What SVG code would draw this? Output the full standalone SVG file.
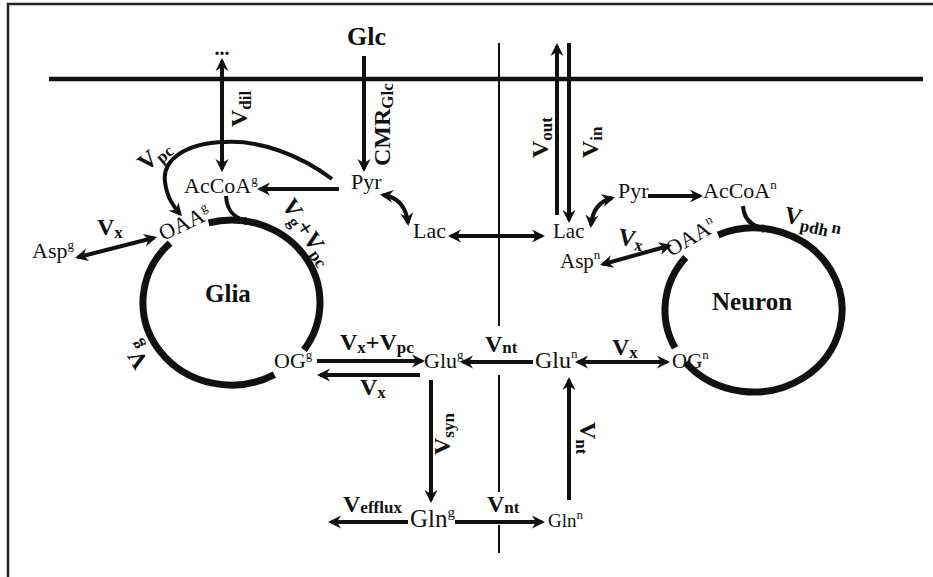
<svg xmlns="http://www.w3.org/2000/svg" width="933" height="577" viewBox="0 0 933 577">
<style>
.t{font-family:"Liberation Serif","Times New Roman",serif;font-size:22px;fill:#111}
.b{font-family:"Liberation Serif","Times New Roman",serif;font-weight:bold;font-size:24px;fill:#111}
.sp{font-size:13px}
.sb{font-size:17px}
.ln{fill:none;stroke:#111;stroke-width:4}
.a{marker-end:url(#ah)}
.aa{marker-start:url(#ah);marker-end:url(#ah)}
.as{marker-end:url(#ahs)}
.cyc{fill:none;stroke:#111;stroke-width:7}
.thin{fill:none;stroke:#111;stroke-width:2}
</style>
<defs>
<marker id="ah" markerUnits="userSpaceOnUse" viewBox="-12 -8 16 16" markerWidth="16" markerHeight="16" refX="0" refY="0" orient="auto-start-reverse">
<path d="M3,0 L-10,-6.5 L-6,0 L-10,6.5 Z" fill="#111"/>
</marker>
<marker id="ahs" markerUnits="userSpaceOnUse" viewBox="-10 -6 12 12" markerWidth="12" markerHeight="12" refX="0" refY="0" orient="auto">
<path d="M2,0 L-8,-4.5 L-5,0 L-8,4.5 Z" fill="#111"/>
</marker>
</defs>
<rect x="0" y="0" width="933" height="577" fill="#fff"/>
<rect x="8" y="4" width="960" height="600" fill="none" stroke="#222" stroke-width="2.5"/>
<g id="membrane">
<line x1="49" y1="79" x2="923" y2="79" stroke="#111" stroke-width="4.5"/>
<path class="thin" d="M499,43 V326 M499,375 V492 M499,525 V553"/>
</g>
<g id="connectors">
<path class="cyc" d="M208.6,222.8 A88.5,82.5 0 0 1 304,349.8"/>
<path class="cyc" d="M274.4,374.7 A88.5,82.5 0 0 1 170,243.2"/>
<path class="cyc" d="M718.1,234.9 A88.5,82 0 1 1 685.7,362.7"/>
<path class="cyc" d="M675,347.9 A88.5,82 0 0 1 685.7,257.3"/>
<path class="ln aa" d="M222,61 V169"/>
<path class="ln a" d="M364,56 V169"/>
<path class="ln a" d="M339,189 H260"/>
<path class="ln a" d="M332,179 C300,155 260,140 225,142 C185,143 162,160 165,182 C167,198 174,207 180,214"/>
<path class="ln aa" d="M383,195 Q405,198 408,223"/>
<path class="ln aa" d="M451,236 H542"/>
<path class="ln aa" d="M591,225 Q593,203 612,198"/>
<path class="ln a" d="M648,196 H700"/>
<path class="ln as" d="M743,206 C744,220 752,228 770,229"/>
<path class="ln as" d="M226,196 C227,212 235,220 252,222"/>
<path class="ln aa" d="M602.9,264.2 L669.1,245.8"/>
<path class="ln aa" d="M77.9,257.3 L154.1,237.7"/>
<path class="ln a" d="M317,361 H422"/>
<path class="ln a" d="M420,375 H320"/>
<path class="ln a" d="M533,362 H463"/>
<path class="ln aa" d="M578,362 H667"/>
<path class="ln a" d="M431,380 V500"/>
<path class="ln a" d="M569,500 V380"/>
<path class="ln a" d="M408,522 H331"/>
<path class="ln a" d="M455,522 H542"/>
<path class="ln a" d="M557,215 V46"/>
<path class="ln a" d="M569,43 V220"/>
<g id="labels">
<text class="b" transform="translate(247,127) rotate(-90)">V<tspan class="sb" dy="4">dil</tspan></text>
<text class="b" transform="translate(146,172) rotate(-40)">V<tspan class="sb" dy="4">pc</tspan></text>
<text class="b" transform="translate(390,166) rotate(-90)">CMR<tspan class="sb" dy="3">Glc</tspan></text>
<text class="b" transform="translate(548,158) rotate(-90)">V<tspan class="sb" dy="4">out</tspan></text>
<text class="b" transform="translate(598,158) rotate(-90)">V<tspan class="sb" dy="4">in</tspan></text>
<text class="b" x="97" y="235">V<tspan class="sb" dy="3">x</tspan></text>
<text class="b" transform="translate(281,205) rotate(57)">V<tspan class="sb" dy="4">g</tspan><tspan dy="-4">+V</tspan><tspan class="sb" dy="4">pc</tspan></text>
<text class="b" transform="translate(617,244) rotate(10)">V<tspan class="sb" dy="3">x</tspan></text>
<text class="b" transform="translate(783,222) rotate(12)">V<tspan class="sb" dy="5">pdh</tspan><tspan class="sb" dx="3" dy="-5">n</tspan></text>
<text class="b" x="340" y="350">V<tspan class="sb" dy="3">x</tspan><tspan dy="-3">+V</tspan><tspan class="sb" dy="3">pc</tspan></text>
<text class="b" x="360" y="395">V<tspan class="sb" dy="3">x</tspan></text>
<text class="b" x="485" y="352">V<tspan class="sb" dy="1">nt</tspan></text>
<text class="b" x="612" y="355">V<tspan class="sb" dy="3">x</tspan></text>
<text class="b" transform="translate(580,422) rotate(90)">V<tspan class="sb" dy="4">nt</tspan></text>
<text class="b" transform="translate(450,455) rotate(-90)">V<tspan class="sb" dy="4">syn</tspan></text>
<text class="b" x="343" y="512">V<tspan class="sb" dy="1">efflux</tspan></text>
<text class="b" x="487" y="512">V<tspan class="sb" dy="1">nt</tspan></text>
<text class="b" transform="translate(149,363) rotate(-120)">V<tspan class="sb" dy="4">g</tspan></text>
</g>
</g>
<g id="Glc"><text class="b" x="347" y="45" style="font-size:26px">Glc</text></g>
<g id="dil-out"><text class="b" x="222" y="55" text-anchor="middle" style="font-size:20px">...</text></g>
<g id="AcCoAg"><text class="t" x="184" y="193">AcCoA<tspan class="sp" dy="-9">g</tspan></text></g>
<g id="Pyrg"><text class="t" x="351" y="189">Pyr</text></g>
<g id="Lacg"><text class="t" x="413" y="238">Lac</text></g>
<g id="Lacn"><text class="t" x="553" y="238" style="font-size:21px">Lac</text></g>
<g id="Pyrn"><text class="t" x="618" y="198">Pyr</text></g>
<g id="AcCoAn"><text class="t" x="703" y="198">AcCoA<tspan class="sp" dy="-9">n</tspan></text></g>
<g id="Aspg"><text class="t" x="32" y="258">Asp<tspan class="sp" dy="-9">g</tspan></text></g>
<g id="OAAg"><text class="t" transform="translate(163,241) rotate(-25)">OAA<tspan class="sp" dy="-9">g</tspan></text></g>
<g id="Aspn"><text class="t" x="560" y="268" style="font-size:21px">Asp<tspan class="sp" dy="-9">n</tspan></text></g>
<g id="OAAn"><text class="t" transform="translate(671,257) rotate(-30)">OAA<tspan class="sp" dy="-9">n</tspan></text></g>
<g id="OGg"><text class="t" x="274" y="368">OG<tspan class="sp" dy="-9">g</tspan></text></g>
<g id="Glug"><text class="t" x="424" y="368">Glu<tspan class="sp" dy="-9">g</tspan></text></g>
<g id="Glun"><text class="t" x="535" y="368" style="font-size:24px">Glu<tspan class="sp" dy="-10">n</tspan></text></g>
<g id="OGn"><text class="t" x="672" y="368" style="font-size:21px">OG<tspan class="sp" dy="-9">n</tspan></text></g>
<g id="Glng"><text class="t" x="410" y="527" style="font-size:25px">Gln<tspan class="sp" style="font-size:15px" dy="-10">g</tspan></text></g>
<g id="Glnn"><text class="t" x="548" y="527" style="font-size:19px">Gln<tspan class="sp" dy="-8">n</tspan></text></g>
<g id="Glia"><text class="b" x="205" y="302" style="font-size:25px">Glia</text></g>
<g id="Neuron"><text class="b" x="712" y="310" style="font-size:25px">Neuron</text></g>
</svg>
